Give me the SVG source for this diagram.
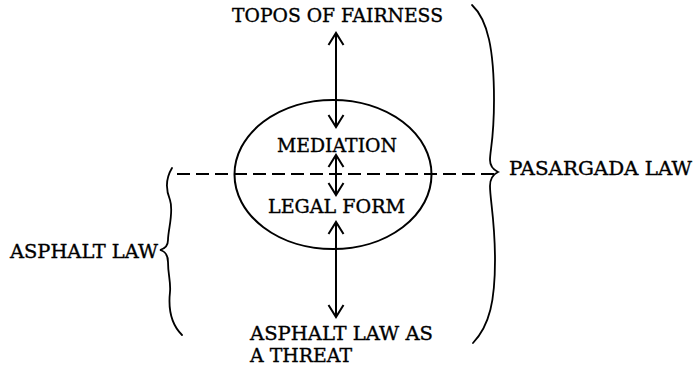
<svg xmlns="http://www.w3.org/2000/svg" width="695" height="368" viewBox="0 0 695 368">
<defs>
<style>
.t{font-family:"DejaVu Serif","Liberation Serif",serif;font-size:18.5px;fill:#000;stroke:#000;stroke-width:0.35}
.ln{stroke:#000;stroke-width:2;fill:none}
.br{stroke:#000;stroke-width:1.8;fill:none;stroke-linecap:round}
.dash{stroke:#000;stroke-width:1.8;fill:none;stroke-dasharray:13 6}
</style>
<marker id="ah" viewBox="-14 -10 16 20" refX="0" refY="0" markerWidth="16" markerHeight="20" markerUnits="userSpaceOnUse" orient="auto-start-reverse">
<path d="M-12,-7.5 L0,0 L-12,7.5" fill="none" stroke="#000" stroke-width="2"/>
</marker>
</defs>
<rect width="695" height="368" fill="#fff"/>
<g id="ellipse-node">
<ellipse cx="333" cy="174.5" rx="98.5" ry="74.5" class="ln"/>
</g>
<g id="topos">
<text class="t" x="232" y="22" textLength="211" lengthAdjust="spacingAndGlyphs">TOPOS OF FAIRNESS</text>
</g>
<g id="mediation">
<text class="t" x="277" y="152" textLength="120" lengthAdjust="spacingAndGlyphs">MEDIATION</text>
</g>
<g id="legal-form">
<text class="t" x="268" y="213" textLength="137" lengthAdjust="spacingAndGlyphs">LEGAL FORM</text>
</g>
<g id="asphalt-threat">
<text class="t" x="250" y="340" textLength="183" lengthAdjust="spacingAndGlyphs">ASPHALT LAW AS</text>
<text class="t" x="250" y="362" textLength="102" lengthAdjust="spacingAndGlyphs">A THREAT</text>
</g>
<g id="pasargada-law">
<path class="br" d="M472,5 C488,20 494,50 494,100 C494,140 490,150 490,160 C490,166 494,170 498,172 C494,174 490,178 490,186 C490,200 495,220 495,260 C495,300 490,325 473,343"/>
<text class="t" x="509" y="175" textLength="183" lengthAdjust="spacingAndGlyphs">PASARGADA LAW</text>
</g>
<g id="asphalt-law">
<path class="br" d="M172,168 C166,178 165,188 170,200 C174,212 168,230 168,240 C168,246 164,249 160,250 C164,251 168,254 168,262 C168,275 171,282 170,292 C168,310 172,325 182,335"/>
<text class="t" x="10" y="258" textLength="148" lengthAdjust="spacingAndGlyphs">ASPHALT LAW</text>
</g>
<g id="connectors">
<line class="dash" x1="177" y1="174" x2="496" y2="174"/>
<line class="ln" x1="336" y1="33" x2="336" y2="127" marker-start="url(#ah)" marker-end="url(#ah)"/>
<line class="ln" x1="336" y1="155" x2="336" y2="195" marker-start="url(#ah)" marker-end="url(#ah)"/>
<line class="ln" x1="336" y1="222" x2="336" y2="317" marker-start="url(#ah)" marker-end="url(#ah)"/>
</g>
</svg>
